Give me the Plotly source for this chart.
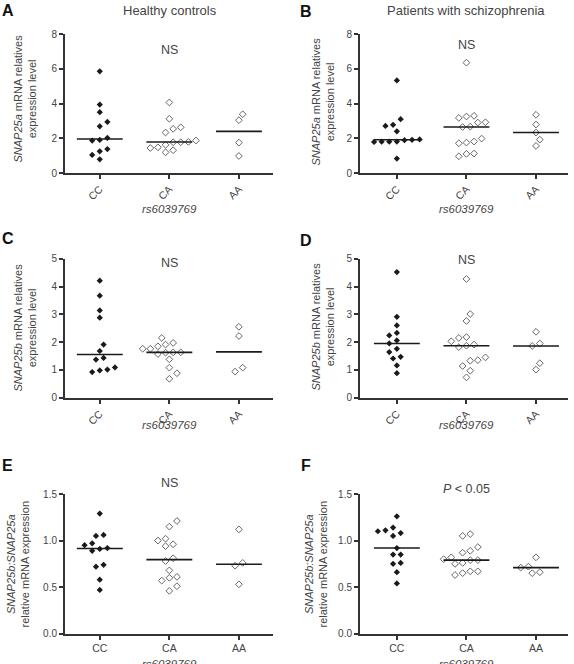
import numpy as np
import plotly.graph_objects as go

W, H = 574, 664
categories = ["CC", "CA", "AA"]
snp_label = "rs6039769"

# Panel A - healthy controls, SNAP25a
a_cc = [5.85, 3.94, 3.50, 2.94, 2.69, 2.02, 1.87, 1.90, 1.25, 1.38, 1.04, 0.79]
a_ca = [4.06, 3.12, 2.63, 2.54, 2.33, 1.87, 1.77, 1.77, 1.79, 1.62, 1.44, 1.48, 1.19, 1.31]
a_aa = [3.04, 3.38, 1.75, 0.98]
# Panel B - schizophrenia, SNAP25a
b_cc = [5.33, 3.10, 2.77, 2.71, 2.40, 1.89, 1.79, 1.80, 1.80, 1.81, 1.91, 1.93, 0.83]
b_ca = [6.35, 3.25, 3.17, 3.29, 2.90, 2.92, 2.65, 2.67, 1.98, 1.75, 1.71, 1.81, 1.12, 0.96, 1.10]
b_aa = [3.35, 2.79, 2.33, 1.92, 1.56]
# Panel C - healthy controls, SNAP25b
c_cc = [4.21, 3.67, 3.14, 2.88, 1.91, 1.68, 1.43, 1.37, 1.01, 0.92, 0.98, 1.09]
c_ca = [2.15, 1.91, 1.97, 1.76, 1.85, 1.76, 1.63, 1.62, 1.57, 1.63, 1.38, 1.08, 0.88, 0.68]
c_aa = [2.55, 2.22, 0.94, 1.08]
# Panel D - schizophrenia, SNAP25b
d_cc = [4.52, 2.91, 2.60, 2.24, 2.33, 2.06, 1.95, 1.76, 1.64, 1.47, 1.41, 1.16, 0.88]
d_ca = [4.27, 3.01, 2.76, 2.15, 2.03, 2.18, 1.87, 1.82, 1.91, 1.45, 1.33, 1.35, 1.14, 0.97, 0.73]
d_aa = [2.37, 1.95, 1.86, 1.24, 1.01]
# Panel E - healthy controls, ratio
e_cc = [1.29, 1.05, 1.06, 0.95, 0.97, 0.91, 0.89, 0.92, 0.72, 0.74, 0.58, 0.47]
e_ca = [1.21, 1.15, 1.00, 1.02, 0.94, 0.96, 0.81, 0.78, 0.68, 0.60, 0.61, 0.57, 0.51, 0.46]
e_aa = [1.12, 0.76, 0.73, 0.53]
# Panel F - schizophrenia, ratio
f_cc = [1.26, 1.14, 1.10, 1.05, 1.08, 1.11, 0.92, 0.85, 0.85, 0.76, 0.75, 0.66, 0.54]
f_ca = [1.07, 1.05, 0.93, 0.87, 0.89, 0.82, 0.79, 0.76, 0.75, 0.79, 0.80, 0.67, 0.63, 0.65, 0.67]
f_aa = [0.82, 0.71, 0.72, 0.65, 0.66]

panel_letters = ["A", "B", "C", "D", "E", "F"]
column_titles = ["Healthy controls", "Patients with schizophrenia"]
stat_labels = ["NS", "NS", "NS", "NS", "NS", "<i>P</i> < 0.05"]
y_titles = [
    "<i>SNAP25a</i> mRNA relatives<br>expression level",
    "<i>SNAP25a</i> mRNA relatives<br>expression level",
    "<i>SNAP25b</i> mRNA relatives<br>expression level",
    "<i>SNAP25b</i> mRNA relatives<br>expression level",
    "<i>SNAP25b:SNAP25a</i><br>relative mRNA expression",
    "<i>SNAP25b:SNAP25a</i><br>relative mRNA expression",
]
y_ranges = [[0, 8], [0, 8], [0, 5], [0, 5], [0, 1.5], [0, 1.5]]
y_dticks = [2, 2, 1, 1, 0.5, 0.5]
y_formats = ["", "", "", "", ".1f", ".1f"]
panel_data = [
    (a_cc, a_ca, a_aa), (b_cc, b_ca, b_aa), (c_cc, c_ca, c_aa),
    (d_cc, d_ca, d_aa), (e_cc, e_ca, e_aa), (f_cc, f_ca, f_aa),
]

# layout in pixels
col_x = [(65, 273), (360, 568)]
col_xrange = [[-0.5, 2.49], [-0.53, 2.46]]
row_y = [(34, 173), (258.7, 397.7), (494, 633.7)]

TXT = "#444"
AX = "#333"
FONT = "Liberation Sans, Arial, Helvetica, sans-serif"


def px2x(p):
    return p / W


def px2y(p):
    return 1 - p / H


def swarm(values, center, ppx, ppy, step_px=7.6, dmin=7.0, tol=4.0):
    vals = np.asarray(values, float)
    order = np.argsort(vals)
    rows = []
    for i in order:
        if rows and (vals[i] - vals[rows[-1][0]]) * ppy < tol:
            rows[-1].append(i)
        else:
            rows.append([i])
    xs = np.zeros(len(vals))
    placed = []
    h = step_px / 2
    shifts = [0]
    for k in range(1, 10):
        shifts += [k * h, -k * h]
    for row in rows:
        n = len(row)
        base = [(k - (n - 1) / 2) * step_px for k in range(n)]
        chosen = 0
        for s in shifts:
            ok = True
            for k, i in enumerate(row):
                px = base[k] + s
                py = vals[i] * ppy
                for (qx, qy) in placed:
                    if (px - qx) ** 2 + (py - qy) ** 2 < dmin ** 2:
                        ok = False
                        break
                if not ok:
                    break
            if ok:
                chosen = s
                break
        for k, i in enumerate(row):
            xs[i] = center + (base[k] + chosen) / ppx
            placed.append((base[k] + chosen, vals[i] * ppy))
    return xs


fig = go.Figure()
annotations = []

for p in range(6):
    col = p % 2
    row = p // 2
    x0, x1 = col_x[col]
    y0, y1 = row_y[row]
    xr = col_xrange[col]
    yr = y_ranges[p]
    ppx = (x1 - x0) / (xr[1] - xr[0])
    ppy = (y1 - y0) / (yr[1] - yr[0])
    ax_id = "" if p == 0 else str(p + 1)
    xa = "x" + ax_id
    ya = "y" + ax_id

    for g, vals in enumerate(panel_data[p]):
        xs = swarm(vals, g, ppx, ppy)
        if g == 0:
            marker = dict(symbol="diamond", size=4.8, color="#1a1a1a")
        else:
            marker = dict(symbol="diamond-open", size=5.2, color="#666",
                          line=dict(width=1, color="#666"))
        fig.add_trace(go.Scatter(x=xs, y=vals, mode="markers", marker=marker,
                                 xaxis=xa, yaxis=ya, showlegend=False,
                                 hoverinfo="y"))
        med = float(np.median(vals))
        fig.add_trace(go.Scatter(x=[g - 0.33, g + 0.33], y=[med, med], mode="lines",
                                 line=dict(color="#1a1a1a", width=1.6),
                                 xaxis=xa, yaxis=ya, showlegend=False,
                                 hoverinfo="skip"))

    tickangle = -45 if row < 2 else 0
    fig.update_layout(**{
        "xaxis" + ax_id: dict(
            domain=[px2x(x0), px2x(x1)], range=xr, anchor=ya,
            tickvals=[0, 1, 2], ticktext=categories, tickangle=tickangle,
            showline=True, linecolor=AX, linewidth=2, ticks="outside",
            ticklen=4, tickwidth=1.5, tickcolor=AX, showgrid=False,
            zeroline=False, automargin=False,
            tickfont=dict(size=10.5, color=TXT, family=FONT),
        ),
        "yaxis" + ax_id: dict(
            domain=[px2y(y1), px2y(y0)], range=yr, anchor=xa,
            dtick=y_dticks[p], tick0=0, tickformat=y_formats[p],
            showline=True, linecolor=AX, linewidth=2, ticks="outside",
            ticklen=4, tickwidth=1.5, tickcolor=AX, showgrid=False,
            zeroline=False, automargin=False,
            tickfont=dict(size=10, color=TXT, family=FONT),
        ),
    })

# panel letters
letter_pos = [(0, 0), (298, 1), (0, 228), (298, 230), (0, 455), (299, 455)]
for L, (lx, ly) in zip(panel_letters, letter_pos):
    annotations.append(dict(text="<b>%s</b>" % L, x=px2x(lx), y=px2y(ly),
                            xref="paper", yref="paper", xanchor="left",
                            yanchor="top", showarrow=False,
                            font=dict(size=16, color="#111", family=FONT)))

# column titles
for t, cx in zip(column_titles, [170, 466]):
    annotations.append(dict(text=t, x=px2x(cx), y=px2y(11), xref="paper",
                            yref="paper", xanchor="center", yanchor="middle",
                            showarrow=False,
                            font=dict(size=13, color=TXT, family=FONT)))

# stat labels
stat_y = [50.5, 44.5, 263, 259.5, 482.5, 489.5]
for p in range(6):
    ax_id = "" if p == 0 else str(p + 1)
    annotations.append(dict(text=stat_labels[p], x=1, y=px2y(stat_y[p]),
                            xref="x" + ax_id, yref="paper", xanchor="center",
                            yanchor="middle", showarrow=False,
                            font=dict(size=12.5, color=TXT, family=FONT)))

# y titles
ytitle_pos = [(24.5, 99), (322.5, 102), (24.5, 328), (322.5, 327), (17.5, 564), (315.5, 564)]
for p in range(6):
    tx, ty = ytitle_pos[p]
    annotations.append(dict(text=y_titles[p], x=px2x(tx), y=px2y(ty),
                            xref="paper", yref="paper", xanchor="center",
                            yanchor="middle", textangle=-90, showarrow=False,
                            font=dict(size=11, color=TXT, family=FONT)))

# x titles
xtitle_y = [209, 209, 425, 425, 664, 664]
for p in range(6):
    ax_id = "" if p == 0 else str(p + 1)
    annotations.append(dict(text="<i>%s</i>" % snp_label, x=1, y=px2y(xtitle_y[p]),
                            xref="x" + ax_id, yref="paper", xanchor="center",
                            yanchor="middle", showarrow=False,
                            font=dict(size=11.5, color=TXT, family=FONT)))

fig.update_layout(width=W, height=H, autosize=False,
                  margin=dict(l=0, r=0, t=0, b=0, pad=0),
                  paper_bgcolor="white", plot_bgcolor="white",
                  font=dict(family=FONT, color=TXT),
                  annotations=annotations)

css_reset = (
    "var s=document.createElement('style');"
    "s.textContent='html,body{margin:0!important;padding:0!important;overflow:hidden;"
    "width:574px;height:664px;}';"
    "document.head.appendChild(s);"
)
fig.write_html("out.html", config={"displayModeBar": False, "responsive": False},
               post_script=css_reset)
